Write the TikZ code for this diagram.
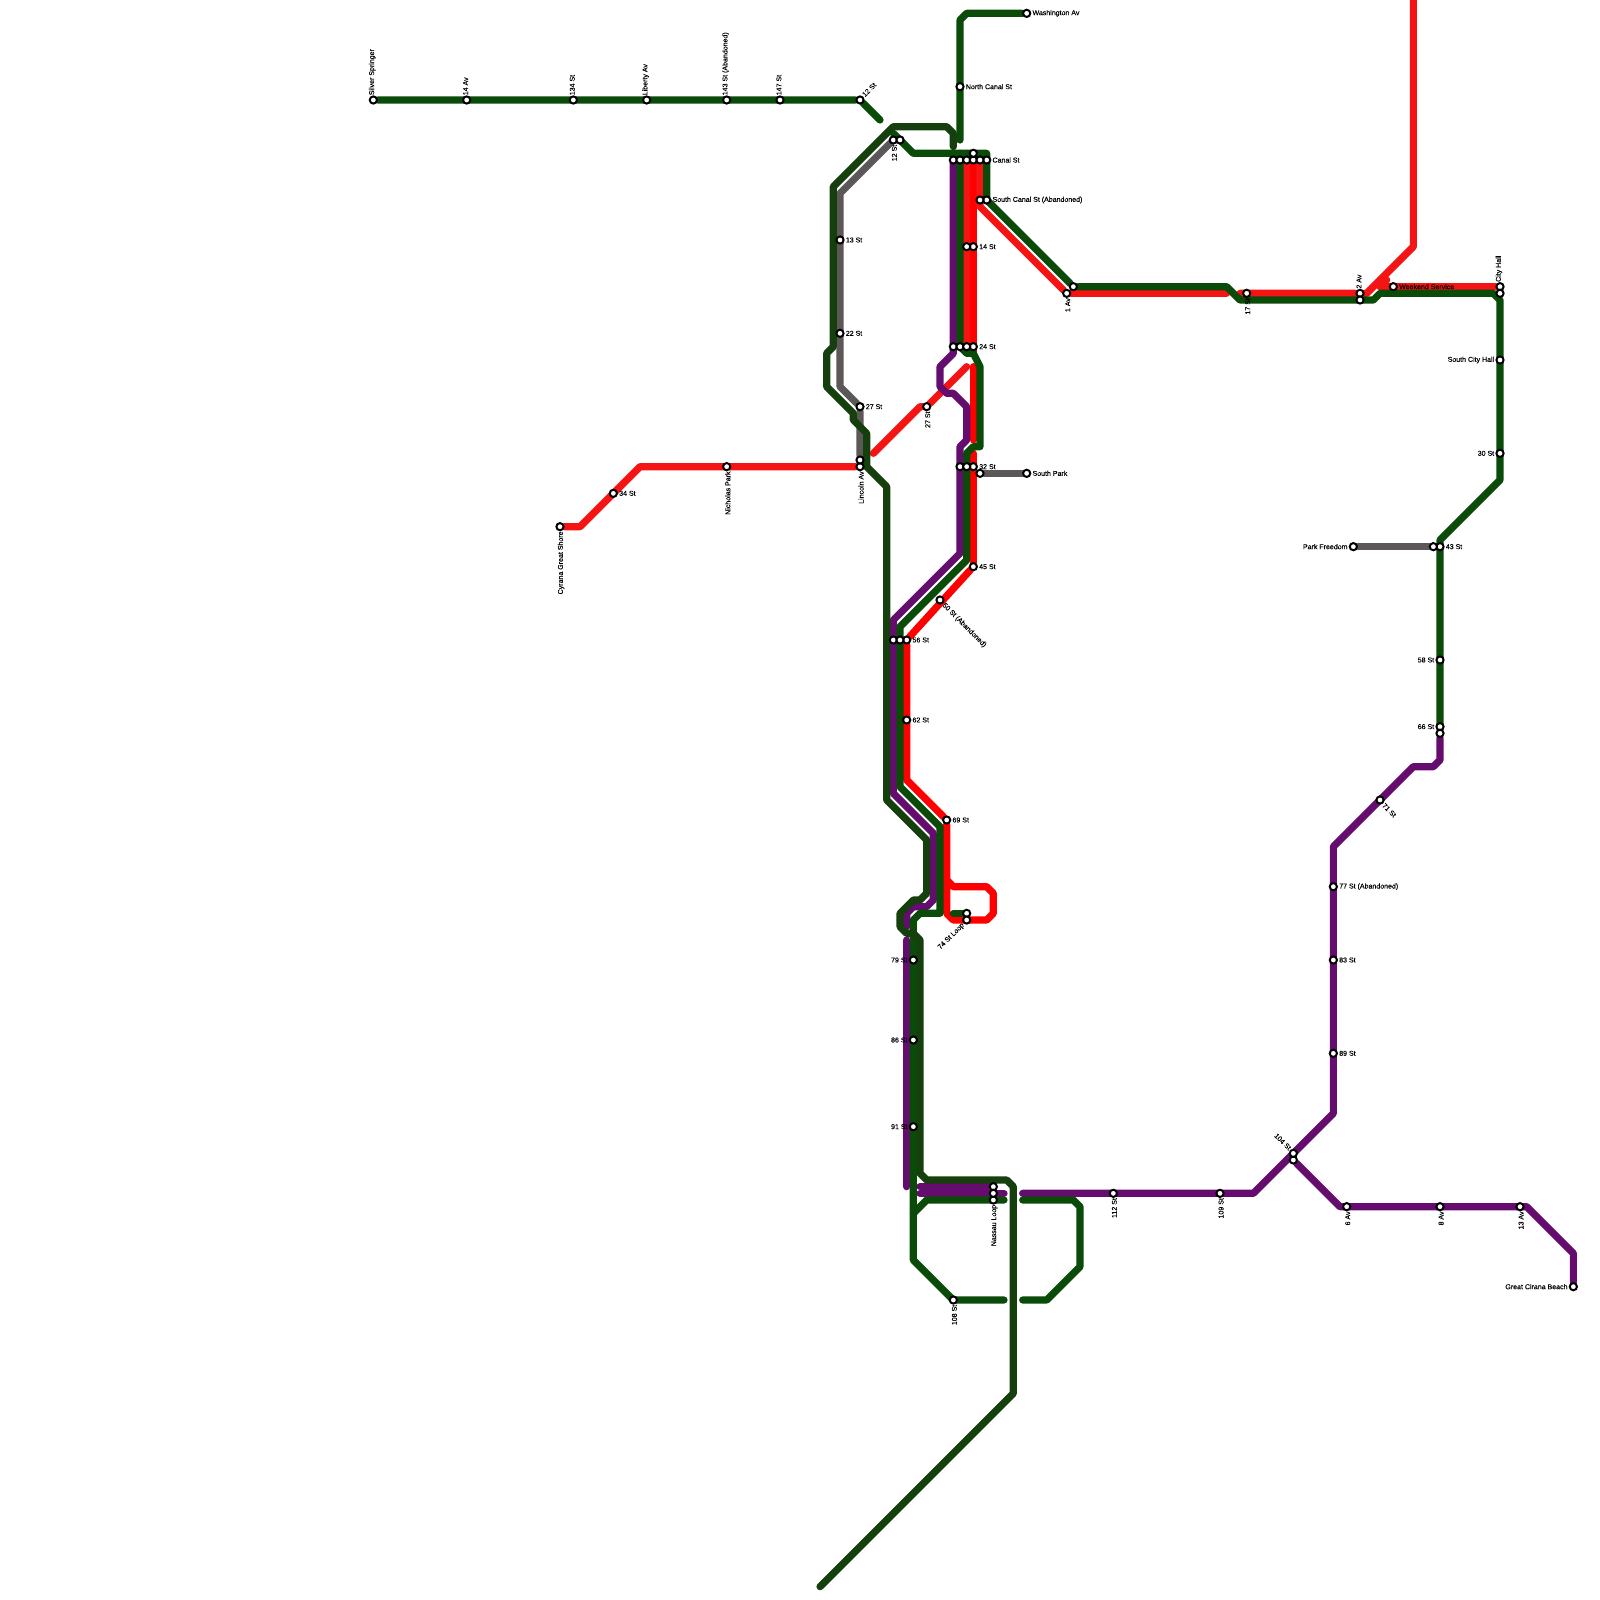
\documentclass[tikz,border=0pt]{standalone}
\usepackage{fontspec}
\setmainfont{Liberation Sans}[FakeBold=0.25]
\usetikzlibrary{backgrounds}
\definecolor{darkline}{HTML}{153F0D}
\definecolor{greenline}{HTML}{0B4B09}
\definecolor{purpleline}{HTML}{640D6E}
\definecolor{redline}{HTML}{FF0000}
\definecolor{redtwoline}{HTML}{F51414}
\definecolor{greyline}{HTML}{5C5858}
\tikzset{
  route/.style={line width=.27cm, line cap=round, line join=round},
  stn/.style={circle, draw=black, fill=white, line width=.075cm, inner sep=0pt, minimum size=.27cm},
  lbl/.style={font=\fontsize{7.5}{9}\selectfont, inner sep=0pt, text=black},
}
\begin{document}
\begin{tikzpicture}[x=.25cm, y=-.25cm, label distance=.4mm]
\useasboundingbox (0,0) rectangle (240,240);

% stations, label to the right
\foreach \nm/\x/\y/\txt in {wash/154/2/Washington Av, ncanal/144/13/North Canal St, canal/148/24/Canal St,
  scanal/148/30/South Canal St (Abandoned), st14/146/37/14 St, st13/126/36/13 St, st22/126/50/22 St,
  st24/146/52/24 St, st27/129/61/27 St, st34/92/74/34 St, st32/146/70/32 St, spark/154/71/South Park,
  st45/146/85/45 St, st56/136/96/56 St, st62/136/108/62 St, st69/142/123/69 St, weekend/209/43/Weekend Service,
  st43/216/82/43 St, st77/200/133/77 St (Abandoned), st83/200/144/83 St, st89/200/158/89 St}
  \node[stn, label={[lbl]right:\txt}] (\nm) at (\x,\y) {};

% stations, label to the left
\foreach \nm/\x/\y/\txt in {schall/225/54/South City Hall, st30/225/68/30 St, pfree/203/82/Park Freedom,
  st58/216/99/58 St, st66/216/109/66 St, st79/137/144/79 St, st86/137/156/86 St, st91/137/169/91 St,
  beach/236/193/Great Cirana Beach}
  \node[stn, label={[lbl]left:\txt}] (\nm) at (\x,\y) {};

% stations, label turned and above
\foreach \nm/\x/\y/\txt in {silver/56/15/Silver Springer, av14/70/15/14 Av, st134/86/15/134 St, liberty/97/15/Liberty Av,
  st143/109/15/143 St (Abandoned), st147/117/15/147 St, av2/204/44/2 Av, chall/225/43/City Hall}
  \node[stn, label={[lbl, rotate=90, anchor=west]above:\txt}] (\nm) at (\x,\y) {};

% stations, label turned and below
\foreach \nm/\x/\y/\txt in {st12b/134/21/12 St, av1/160/44/1 Av, st17/187/44/17 St, sw27/139/61/27 St, lincoln/129/70/Lincoln Av,
  nicholas/109/70/Nicholas Park, cyrana/84/79/Cyrana Great Shore, nassau/149/180/Nassau Loop, st108/143/195/108 St,
  st112/167/179/112 St, st109/183/179/109 St, av6/202/181/6 Av, av8/216/181/8 Av, av13/228/181/13 Av}
  \node[stn, label={[lbl, rotate=90, anchor=east]below:\txt}] (\nm) at (\x,\y) {};

% stations with no label of their own
\foreach \nm/\x/\y in {c1/143/24, c2/144/24, c3/145/24, c4/146/24, c5/147/24, c6/146/23, sc2/147/30, n12/135/21,
  s14/145/37, s1/143/52, s2/144/52, s3/145/52, s4/129/69, s5/144/70, s6/145/70, s7/147/71, s8/134/96, s9/135/96,
  a1/161/43, av2b/204/45, chb/225/44, st43b/215/82, st66b/216/110, loopa/145/137, nasa/149/178, nasb/149/179, st104b/194/174}
  \node[stn] (\nm) at (\x,\y) {};

% the odd ones
\node[stn, label={[lbl, rotate=45, anchor=west]north east:12 St}] (st12) at (129,15) {};
\node[stn, label={[lbl, rotate=-45, anchor=west]south east:50 St (Abandoned)}] (st50) at (141,90) {};
\node[stn, label={[lbl, rotate=-45, anchor=west]south east:71 St}] (st71) at (207,120) {};
\node[stn, label={[lbl, rotate=45, anchor=east]south west:74 St Loop}] (loopb) at (145,138) {};
\node[stn, label={[lbl, rotate=-45, anchor=east]north west:104 St}] (st104) at (194,173) {};

\begin{pgfonlayer}{background}
% grey
\draw[route, greyline] (st12b)--(126,29)--(126,58)--(st27)--(s4);
\draw[route, greyline] (s7)--(spark);
\draw[route, greyline] (pfree)--(st43b);
% red
\draw[route, redtwoline] (cyrana)--(87,79)--(96,70)--(lincoln);
\draw[route, redtwoline] (131,68)--(138,61)--(sw27)--(145,55);
\draw[route, redtwoline] (145,23)--(s3)--(146,53);
\draw[route, redline] (146,23)--(146,53);
\draw[route, redline] (146,55)--(146,66);
\draw[route, redtwoline] (147,24)--(147,31)--(av1)--(184,44);
\draw[route, redtwoline] (186,44)--(av2)--(205,44)--(212,37)--(212,0);
\draw[route, redtwoline] (208,42)--(207,43)--(chall);
\draw[route, redline] (146,68)--(st45)--(st56)--(136,117)--(st69)--(142,137)--(143,138)--(148,138)--(149,137)--(149,134)--(148,133)--(143,133)--(142,132);
% purple
\draw[route, purpleline] (143,24)--(143,53)--(141,55)--(141,58)--(142,59)--(143,59)--(145,61)--(145,66)--(144,67)--(144,83)--(134,93)--(134,119)--(140,125)--(140,135)--(139,136)--(137,136)--(136,137)--(136,139);
\draw[route, purpleline] (136,141)--(136,178);
\draw[route, purpleline] (138,178)--(nasa);
\draw[route, purpleline] (138,179)--(150.6,179);
\draw[route, purpleline] (153.4,179)--(188,179)--(200,167)--(200,127)--(212,115)--(215,115)--(216,114)--(st66b);
\draw[route, purpleline] (st104)--(st104b)--(201,181)--(229,181)--(236,188)--(beach);
% green
\draw[route, greenline] (silver)--(st12)--(132,18);
\draw[route, greenline] (wash)--(145,2)--(144,3)--(144,21);
\draw[route, greenline] (134,20)--(137,23)--(148,23)--(148,30)--(a1)--(184,43)--(186,45)--(206,45)--(207,44)--(224,44)--(225,45)--(225,72)--(216,81)--(st66b);
\draw[route, greenline] (144,23)--(144,52)--(145,53)--(146,53)--(147,55)--(147,67)--(146,67)--(145,68)--(145,84)--(135,94)--(135,118)--(141,124)--(141,137)--(138,137)--(137,138)--(137,189)--(143,195)--(150.6,195);
\draw[route, greenline] (153.4,195)--(157,195)--(162,190)--(162,181)--(161,180)--(153.4,180);
\draw[route, greenline] (150.6,180)--(139,180)--(137,182);
\draw[route, greenline] (143,137)--(loopa);
% darker green
\draw[route, darkline] (143,22)--(143,20)--(142,19)--(134,19)--(125,28)--(125,52)--(124,53)--(124,58)--(128,62)--(128,63)--(130,65)--(130,70)--(133,73)--(133,120)--(139,126)--(139,134)--(138,135)--(137,135)--(135,137)--(135,139)--(136,140)--(137,140)--(138,141)--(138,176)--(139,177)--(151,177)--(152,178)--(152,209)--(123,238);
\end{pgfonlayer}
\end{tikzpicture}
\end{document}
